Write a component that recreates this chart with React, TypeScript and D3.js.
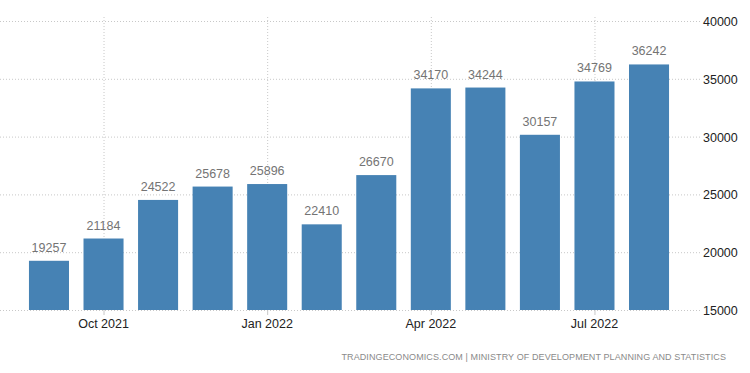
import React, { useRef, useEffect } from 'react';
import * as d3 from 'd3';

const months = ['Sep 2021', 'Oct 2021', 'Nov 2021', 'Dec 2021', 'Jan 2022', 'Feb 2022', 'Mar 2022', 'Apr 2022', 'May 2022', 'Jun 2022', 'Jul 2022', 'Aug 2022'];
const values = [19257, 21184, 24522, 25678, 25896, 22410, 26670, 34170, 34244, 30157, 34769, 36242];
const yTicks = [15000, 20000, 25000, 30000, 35000, 40000];
const xTickLabels = ['Oct 2021', 'Jan 2022', 'Apr 2022', 'Jul 2022'];
const source = 'TRADINGECONOMICS.COM | MINISTRY OF DEVELOPMENT PLANNING AND STATISTICS';

const App: React.FC = () => {
    const width = 750;
    const height = 373;
    const svgRef = useRef<SVGSVGElement>(null);

    useEffect(() => {
        if (!svgRef.current) return;
        const svg = d3.select(svgRef.current);
        svg.selectAll('*').remove();

        const font = "'Liberation Sans', Arial, sans-serif";

        const x = d3.scaleBand<string>()
            .domain(months)
            .range([21.7, 676.3])
            .paddingInner(0.266)
            .paddingOuter(0.133);

        const y = d3.scaleLinear()
            .domain([15000, 40000])
            .range([310, 21]);

        // horizontal grid
        svg.append('g')
            .selectAll('line')
            .data(yTicks)
            .enter()
            .append('line')
            .attr('x1', 0)
            .attr('x2', 700)
            .attr('y1', d => y(d) + 0.5)
            .attr('y2', d => y(d) + 0.5)
            .attr('stroke', '#c8c8c8')
            .attr('stroke-dasharray', '1,2');

        // vertical grid + ticks
        const vg = svg.append('g');
        vg.selectAll('line.grid')
            .data(xTickLabels)
            .enter()
            .append('line')
            .attr('class', 'grid')
            .attr('x1', d => x(d)! + x.bandwidth() / 2 + 0.5)
            .attr('x2', d => x(d)! + x.bandwidth() / 2 + 0.5)
            .attr('y1', 17)
            .attr('y2', 310)
            .attr('stroke', '#c8c8c8')
            .attr('stroke-dasharray', '1,2');
        vg.selectAll('line.tick')
            .data(xTickLabels)
            .enter()
            .append('line')
            .attr('class', 'tick')
            .attr('x1', d => x(d)! + x.bandwidth() / 2 + 0.5)
            .attr('x2', d => x(d)! + x.bandwidth() / 2 + 0.5)
            .attr('y1', 310)
            .attr('y2', 315)
            .attr('stroke', '#c8c8c8');

        // bars
        svg.append('g')
            .selectAll('rect')
            .data(values)
            .enter()
            .append('rect')
            .attr('x', (d, i) => x(months[i])!)
            .attr('y', d => y(d))
            .attr('width', x.bandwidth())
            .attr('height', d => y(15000) - y(d))
            .attr('fill', '#4682b4');

        // value labels
        svg.append('g')
            .selectAll('text')
            .data(values)
            .enter()
            .append('text')
            .attr('x', (d, i) => x(months[i])! + x.bandwidth() / 2)
            .attr('y', d => y(d) - 9)
            .attr('text-anchor', 'middle')
            .attr('font-family', font)
            .attr('font-size', 12.5)
            .attr('fill', '#747474')
            .text(d => String(d));

        // y labels
        svg.append('g')
            .selectAll('text')
            .data(yTicks)
            .enter()
            .append('text')
            .attr('x', 703)
            .attr('y', d => y(d) + 5)
            .attr('font-family', font)
            .attr('font-size', 12.5)
            .attr('fill', '#222')
            .text(d => String(d));

        // x labels
        svg.append('g')
            .selectAll('text')
            .data(xTickLabels)
            .enter()
            .append('text')
            .attr('x', d => x(d)! + x.bandwidth() / 2)
            .attr('y', 328)
            .attr('text-anchor', 'middle')
            .attr('font-family', font)
            .attr('font-size', 12.5)
            .attr('fill', '#222')
            .text(d => d);

        svg.append('text')
            .attr('x', 726)
            .attr('y', 360)
            .attr('text-anchor', 'end')
            .attr('font-family', font)
            .attr('font-size', 9)
            .attr('letter-spacing', 0.1)
            .attr('fill', '#8a8a8a')
            .text(source);
    }, []);

    return <svg ref={svgRef} width={width} height={height} style={{ position: 'absolute', left: 0, top: 0, background: '#fff' }} />;
};

export default App;
